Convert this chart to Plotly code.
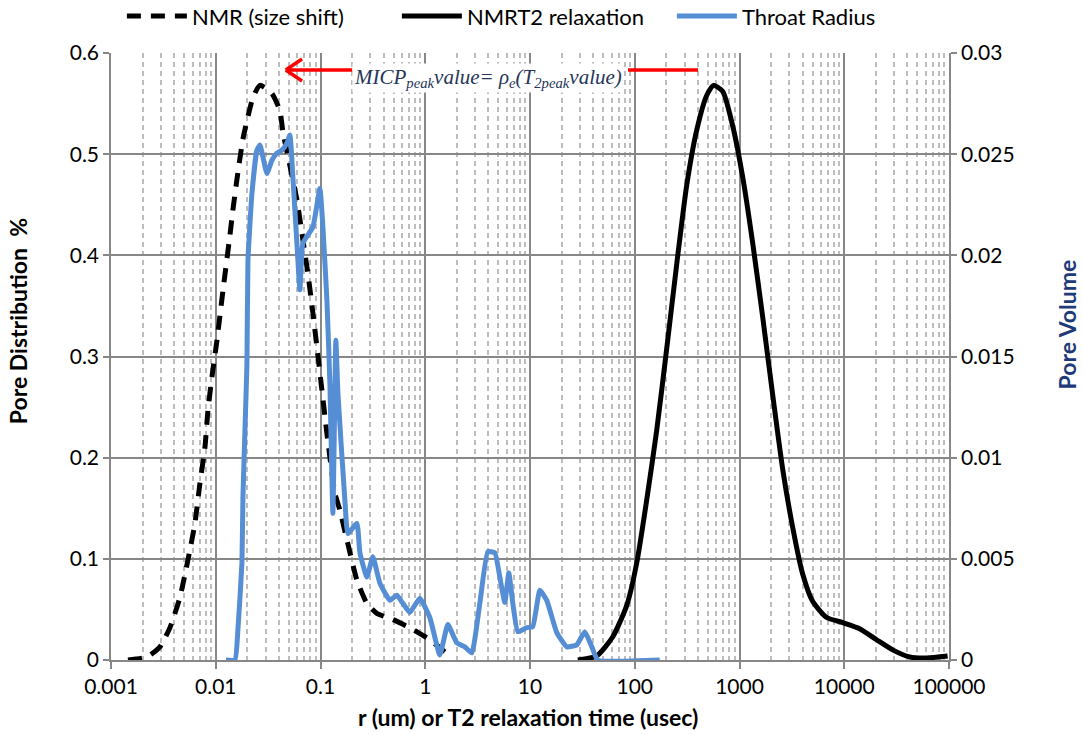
import plotly.graph_objects as go

# ---------------- data ----------------
nmr_x = [0.001452, 0.002206, 0.002935, 0.003656, 0.004554, 0.005428, 0.006329, 0.007065,
         0.007884, 0.008424, 0.00920, 0.01027, 0.01171, 0.01366, 0.01459, 0.01593, 0.01818,
         0.02265, 0.02641, 0.03438, 0.04098, 0.04377, 0.05953, 0.06793, 0.07581, 0.08461,
         0.09445, 0.1031, 0.1151, 0.1372, 0.1532, 0.1786, 0.2225, 0.2771, 0.3452, 0.4906,
         0.7129, 1.106, 1.538]
nmr_y = [0.0, 0.003, 0.013, 0.032, 0.062, 0.099, 0.135, 0.175, 0.210, 0.247, 0.280, 0.316,
         0.365, 0.420, 0.445, 0.475, 0.515, 0.556, 0.568, 0.560, 0.543, 0.522, 0.455, 0.415,
         0.382, 0.343, 0.301, 0.267, 0.224, 0.165, 0.148, 0.119, 0.079, 0.056, 0.046, 0.040,
         0.032, 0.020, 0.008]

t2_x = [28.6, 43.4, 61.7, 83.9, 104.5, 130, 162, 202, 252, 313, 391, 486, 565, 692, 861,
        1074, 1337, 1665, 2074, 2582, 3221, 4009, 4989, 6792, 9660, 14030, 20370, 28970,
        42070, 61100, 97000]
t2_y = [0.0, 0.004, 0.023, 0.054, 0.096, 0.158, 0.227, 0.308, 0.392, 0.469, 0.524, 0.558,
        0.568, 0.562, 0.528, 0.477, 0.412, 0.339, 0.262, 0.189, 0.131, 0.085, 0.058, 0.042,
        0.037, 0.031, 0.020, 0.010, 0.003, 0.002, 0.004]

throat_x = [0.01251, 0.01524, 0.01628, 0.01778, 0.01818, 0.01900, 0.01985, 0.02030, 0.02215,
            0.02472, 0.02641, 0.03081, 0.03438, 0.03837, 0.04282, 0.04779, 0.05105, 0.05452,
            0.05953, 0.06360, 0.06793, 0.08461, 0.09870, 0.1054, 0.1151, 0.1229, 0.1313,
            0.1402, 0.1466, 0.1709, 0.1826, 0.2225, 0.2377, 0.2771, 0.3162, 0.3688, 0.4594,
            0.5358, 0.6113, 0.7129, 0.8881, 1.106, 1.378, 1.643, 2.002, 2.387, 2.784, 3.319,
            3.957, 4.615, 5.150, 5.748, 6.278, 6.854, 7.649, 9.322, 10.63, 12.41, 14.46,
            18.02, 22.44, 27.97, 33.34, 38.88, 44.37, 173.2]
throat_v = [0.0, 0.0, 0.0015, 0.0048, 0.00805, 0.01135, 0.01465, 0.01975, 0.02305, 0.0252,
            0.02545, 0.02405, 0.0247, 0.02505, 0.0252, 0.02555, 0.02595, 0.02385, 0.0206,
            0.0183, 0.0206, 0.0214, 0.0233, 0.0214, 0.0178, 0.0137, 0.00725, 0.0158, 0.0132,
            0.0079, 0.00625, 0.00675, 0.0053, 0.0041, 0.0051, 0.0038, 0.00295, 0.0032,
            0.0028, 0.00235, 0.00305, 0.0021, 0.00025, 0.00175, 0.00085, 0.00065, 0.00035,
            0.0028, 0.00535, 0.0053, 0.0041, 0.00285, 0.0043, 0.0028, 0.0014, 0.0016,
            0.00165, 0.00345, 0.00295, 0.00135, 0.00065, 0.00075, 0.0014, 0.00065, 0.0, 0.0]

x_ticks = [0.001, 0.01, 0.1, 1, 10, 100, 1000, 10000, 100000]
x_tick_text = ["0.001", "0.01", "0.1", "1", "10", "100", "1000", "10000", "100000"]
y_ticks = [0, 0.1, 0.2, 0.3, 0.4, 0.5, 0.6]
y_tick_text = ["0", "0.1", "0.2", "0.3", "0.4", "0.5", "0.6"]
y2_ticks = [0, 0.005, 0.01, 0.015, 0.02, 0.025, 0.03]
y2_tick_text = ["0", "0.005", "0.01", "0.015", "0.02", "0.025", "0.03"]

FONT = "Lato"
MAJOR = "#878787"
MINOR = "#bdbdbd"

fig = go.Figure()
fig.add_trace(go.Scatter(x=nmr_x, y=nmr_y, mode="lines", name="NMR (size shift)",
                         line=dict(color="black", width=5, dash="14px,10px", shape="spline",
                                   smoothing=0.5)))
fig.add_trace(go.Scatter(x=t2_x, y=t2_y, mode="lines", name="NMRT2 relaxation",
                         line=dict(color="black", width=5, shape="spline", smoothing=0.6)))
fig.add_trace(go.Scatter(x=throat_x, y=throat_v, mode="lines", name="Throat Radius",
                         yaxis="y2",
                         line=dict(color="#558ED5", width=5, shape="spline", smoothing=0.4)))

fig.update_layout(
    width=1083, height=735,
    margin=dict(l=111, r=134, t=53, b=75, autoexpand=False),
    paper_bgcolor="white", plot_bgcolor="white",
    font=dict(family=FONT, size=21, color="black"),
    showlegend=True,
    legend=dict(orientation="h", x=0.013, xanchor="left", yref="container",
                y=0.978, yanchor="middle",
                font=dict(family=FONT, size=22), itemwidth=60,
                entrywidth=200, entrywidthmode="pixels",
                bgcolor="rgba(0,0,0,0)"),
    xaxis=dict(type="log", range=[-3, 5], tickvals=x_ticks, ticktext=x_tick_text,
               automargin=False,
               showgrid=True, gridcolor=MAJOR, gridwidth=1.5,
               showline=True, linecolor=MAJOR, linewidth=1.5,
               ticks="outside", ticklen=7, tickcolor=MAJOR, tickwidth=1.5,
               minor=dict(dtick="D1", showgrid=True, gridcolor=MINOR, griddash="5px,4px",
                          gridwidth=1.5, ticks=""),
               zeroline=False),
    yaxis=dict(range=[0, 0.6], tickvals=y_ticks, ticktext=y_tick_text,
               automargin=False,
               showgrid=True, gridcolor=MAJOR, gridwidth=1.5,
               showline=True, linecolor=MAJOR, linewidth=1.5,
               ticks="outside", ticklen=6, tickcolor=MAJOR, tickwidth=1.5,
               zeroline=False),
    yaxis2=dict(range=[0, 0.03], tickvals=y2_ticks, ticktext=y2_tick_text,
                automargin=False,
                overlaying="y", side="right", showgrid=False,
                showline=True, linecolor=MAJOR, linewidth=1.5,
                ticks="outside", ticklen=6, tickcolor=MAJOR, tickwidth=1.5,
                zeroline=False),
)

# axis titles placed like the reference
fig.add_annotation(text="<b>r (um) or T2 relaxation time (usec)</b>", xref="paper", yref="paper",
                   x=0.4976, y=-0.0939, xanchor="center", yanchor="middle", showarrow=False,
                   font=dict(family=FONT, size=23, color="black"))
fig.add_annotation(text="<b>Pore Distribution  %</b>", xref="paper", yref="paper",
                   x=-0.111, y=0.558, xanchor="center", yanchor="middle", textangle=-90,
                   showarrow=False, font=dict(family=FONT, size=23, color="black"))
fig.add_annotation(text="<b>Pore Volume</b>", xref="paper", yref="paper",
                   x=1.141, y=0.553, xanchor="center", yanchor="middle", textangle=-90,
                   showarrow=False, font=dict(family=FONT, size=23, color="#1F3A78"))

# formula annotation with red arrow
fig.add_annotation(text="<i>MICP<sub>peak</sub>value= ρ<sub>e</sub>(T<sub>2peak</sub>value)</i>",
                   xref="paper", yref="paper", x=0.45, y=0.959, xanchor="center",
                   yanchor="middle", showarrow=False,
                   font=dict(family="Liberation Serif", size=21, color="#26365A"),
                   bgcolor="white")
fig.add_shape(type="line", xref="paper", yref="paper", x0=0.21, x1=0.288, y0=0.972, y1=0.972,
              line=dict(color="red", width=3.5))
fig.add_shape(type="line", xref="paper", yref="paper", x0=0.2085, x1=0.228, y0=0.972, y1=0.99,
              line=dict(color="red", width=3.5))
fig.add_shape(type="line", xref="paper", yref="paper", x0=0.2085, x1=0.228, y0=0.972, y1=0.954,
              line=dict(color="red", width=3.5))
fig.add_shape(type="line", xref="paper", yref="paper", x0=0.617, x1=0.7005, y0=0.972, y1=0.972,
              line=dict(color="red", width=3.5))

fig.write_html("out.html", config={"displayModeBar": False},
               post_script="document.body.style.margin='0px';document.body.style.overflow='hidden';")
